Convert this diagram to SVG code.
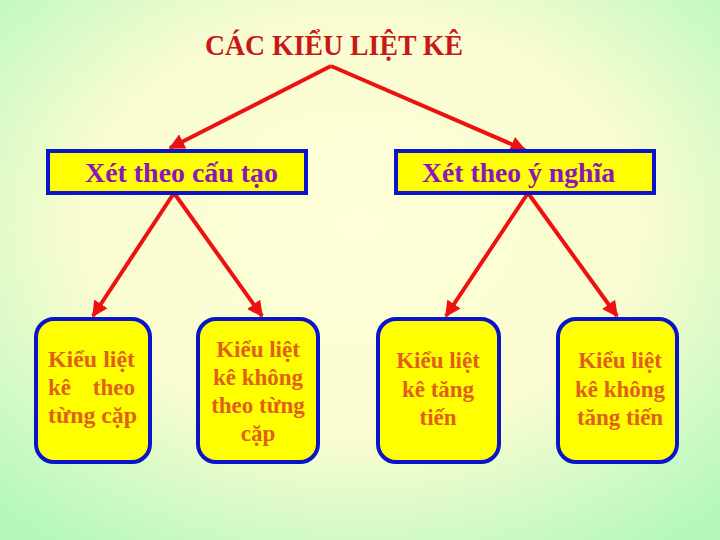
<svg xmlns="http://www.w3.org/2000/svg" width="720" height="540" viewBox="0 0 720 540">
<defs>
<radialGradient id="bg" cx="50%" cy="42%" r="72%">
<stop offset="0" stop-color="#ffffd8"/>
<stop offset="0.55" stop-color="#f8fcd0"/>
<stop offset="1" stop-color="#b4f8bc"/>
</radialGradient>
<marker id="ah" viewBox="0 0 10 10" refX="9" refY="5" markerWidth="4" markerHeight="4" orient="auto" markerUnits="strokeWidth">
<path d="M0,0 L10,5 L0,10 Z" fill="#ee1111"/>
</marker>
<style>
.hdr{fill:#ffff00;stroke:#0a14c8;stroke-width:4}
.leaf{fill:#ffff00;stroke:#0a14c8;stroke-width:4}
.title{font-family:"Liberation Serif",serif;font-size:30px;font-weight:bold;fill:#c81818}
.ht{font-family:"Liberation Serif",serif;font-size:28px;font-weight:bold;fill:#8a18b8}
.lt{font-family:"Liberation Serif",serif;font-size:23px;font-weight:bold;fill:#e0601a}
.arr{stroke:#ee1111;stroke-width:4;fill:none;marker-end:url(#ah)}
</style>
</defs>
<rect x="0" y="0" width="720" height="540" fill="url(#bg)"/>
<g id="title">
<text class="title" x="205" y="55" textLength="258" lengthAdjust="spacingAndGlyphs">CÁC KIỂU LIỆT KÊ</text>
</g>
<g id="connectors">
<polyline class="arr" points="331,66 170,148"/>
<polyline class="arr" points="331,66 525,150"/>
<line class="arr" x1="174" y1="193" x2="93" y2="316"/>
<line class="arr" x1="174" y1="193" x2="262" y2="316"/>
<line class="arr" x1="528" y1="193" x2="446" y2="316"/>
<line class="arr" x1="528" y1="193" x2="617" y2="316"/>
</g>
<g id="node-cautao">
<rect class="hdr" x="48" y="151" width="258" height="42"/>
<text class="ht" x="85" y="182" textLength="193" lengthAdjust="spacingAndGlyphs">Xét theo cấu tạo</text>
</g>
<g id="node-ynghia">
<rect class="hdr" x="396" y="151" width="258" height="42"/>
<text class="ht" x="422" y="182" textLength="193" lengthAdjust="spacingAndGlyphs">Xét theo ý nghĩa</text>
</g>
<g id="node-a">
<rect class="leaf" x="36" y="319" width="114" height="143" rx="18"/>
<text class="lt" x="48" y="367" textLength="87" lengthAdjust="spacingAndGlyphs">Kiểu liệt</text>
<text class="lt" x="48" y="395">kê</text>
<text class="lt" x="135" y="395" text-anchor="end">theo</text>
<text class="lt" x="48" y="423" textLength="89" lengthAdjust="spacingAndGlyphs">từng cặp</text>
</g>
<g id="node-b">
<rect class="leaf" x="198" y="319" width="120" height="143" rx="18"/>
<text class="lt" text-anchor="middle" x="258" y="357">Kiểu liệt</text>
<text class="lt" text-anchor="middle" x="258" y="385">kê không</text>
<text class="lt" text-anchor="middle" x="258" y="413">theo từng</text>
<text class="lt" text-anchor="middle" x="258" y="441">cặp</text>
</g>
<g id="node-c">
<rect class="leaf" x="378" y="319" width="121" height="143" rx="18"/>
<text class="lt" text-anchor="middle" x="438" y="368">Kiểu liệt</text>
<text class="lt" text-anchor="middle" x="438" y="397">kê tăng</text>
<text class="lt" text-anchor="middle" x="438" y="425">tiến</text>
</g>
<g id="node-d">
<rect class="leaf" x="558" y="319" width="119" height="143" rx="18"/>
<text class="lt" text-anchor="middle" x="620" y="368">Kiểu liệt</text>
<text class="lt" text-anchor="middle" x="620" y="397">kê không</text>
<text class="lt" text-anchor="middle" x="620" y="425">tăng tiến</text>
</g>
</svg>
